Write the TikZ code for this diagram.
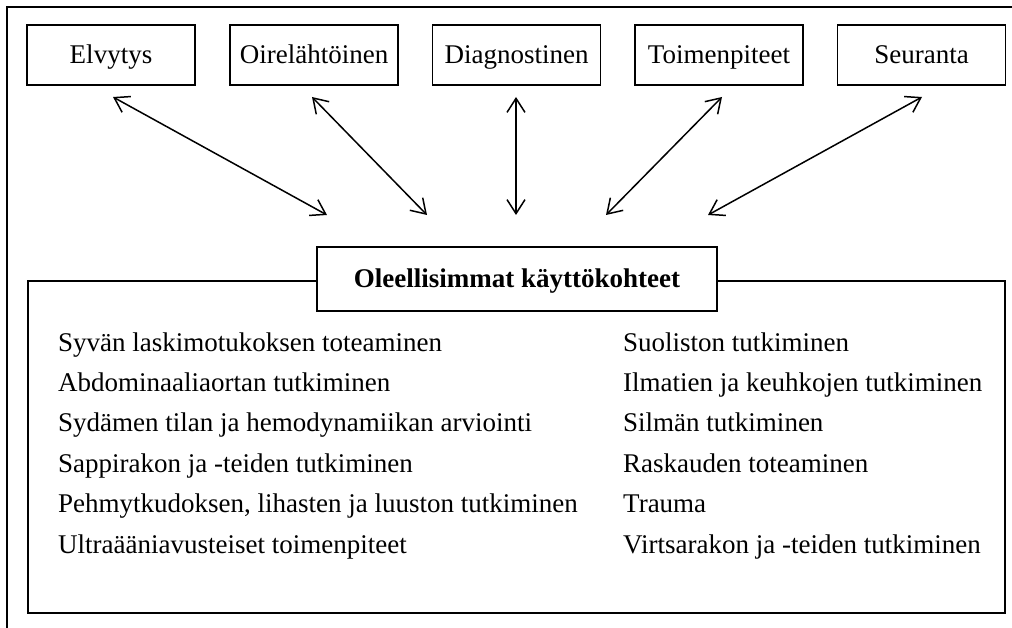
\documentclass[tikz,border=0pt]{standalone}
\usepackage{fontspec}
\setmainfont{Liberation Serif}
\usetikzlibrary{arrows.meta}
\begin{document}
\begin{tikzpicture}[x=1pt,y=-1pt,
  frame/.style={line width=1.8pt},
  topbox/.style={draw,line width=1.8pt,minimum width=168pt,minimum height=60pt,inner sep=0pt,
    text height=18pt,text depth=0pt,font=\fontsize{27}{32}\selectfont},
  titlebox/.style={draw,line width=1.8pt,minimum width=400pt,minimum height=64pt,inner sep=0pt,
    text height=18pt,text depth=0pt,font=\fontsize{27}{32}\selectfont\bfseries},
  item/.style={anchor=base west,inner sep=0pt,font=\fontsize{27}{32}\selectfont},
  link/.style={line width=1.5pt,{Straight Barb[length=14pt,width=18pt]}-{Straight Barb[length=14pt,width=18pt]}}
]
\useasboundingbox (0,0) rectangle (1012,628);
% outer frame (left and top)
\draw[frame] (7,628) -- (7,7) -- (1012,7);

% top boxes
\node[topbox] (elv) at (111,55) {Elvytys};
\node[topbox] (oir) at (314,55) {Oirelähtöinen};
\node[topbox] (dia) at (516.5,55) {Diagnostinen};
\node[topbox] (toi) at (719,55) {Toimenpiteet};
\node[topbox] (seu) at (921.5,55) {Seuranta};

% title box
\node[titlebox] (title) at (517,279) {Oleellisimmat käyttökohteet};

% arrow end points
\coordinate (elvA) at (113,97);  \coordinate (elvB) at (327,215);
\coordinate (oirA) at (312,97);  \coordinate (oirB) at (427,215);
\coordinate (diaA) at (516,97);  \coordinate (diaB) at (516,215);
\coordinate (toiA) at (722,97);  \coordinate (toiB) at (606,215);
\coordinate (seuA) at (922,97);  \coordinate (seuB) at (708,215);

\draw[link] (elvA) -- (elvB);
\draw[link] (oirA) -- (oirB);
\draw[link] (diaA) -- (diaB);
\draw[link] (toiA) -- (toiB);
\draw[link] (seuA) -- (seuB);

% inner box
\coordinate (boxTL) at (28,281);
\coordinate (boxBL) at (28,613);
\coordinate (boxBR) at (1005,613);
\coordinate (boxTR) at (1005,281);
\draw[frame] (title.west |- boxTL) -- (boxTL) -- (boxBL) -- (boxBR) -- (boxTR) -- (title.east |- boxTR);

% left column
\node[item] (l1) at (58,351) {Syvän laskimotukoksen toteaminen};
\node[item] (l2) at (58,391.4) {Abdominaaliaortan tutkiminen};
\node[item] (l3) at (58,431.8) {Sydämen tilan ja hemodynamiikan arviointi};
\node[item] (l4) at (58,472.2) {Sappirakon ja -teiden tutkiminen};
\node[item] (l5) at (58,512.6) {Pehmytkudoksen, lihasten ja luuston tutkiminen};
\node[item] (l6) at (58,553) {Ultraääniavusteiset toimenpiteet};

% right column
\node[item] (r1) at (623,351) {Suoliston tutkiminen};
\node[item] (r2) at (623,391.4) {Ilmatien ja keuhkojen tutkiminen};
\node[item] (r3) at (623,431.8) {Silmän tutkiminen};
\node[item] (r4) at (623,472.2) {Raskauden toteaminen};
\node[item] (r5) at (623,512.6) {Trauma};
\node[item] (r6) at (623,553) {Virtsarakon ja -teiden tutkiminen};
\end{tikzpicture}
\end{document}
